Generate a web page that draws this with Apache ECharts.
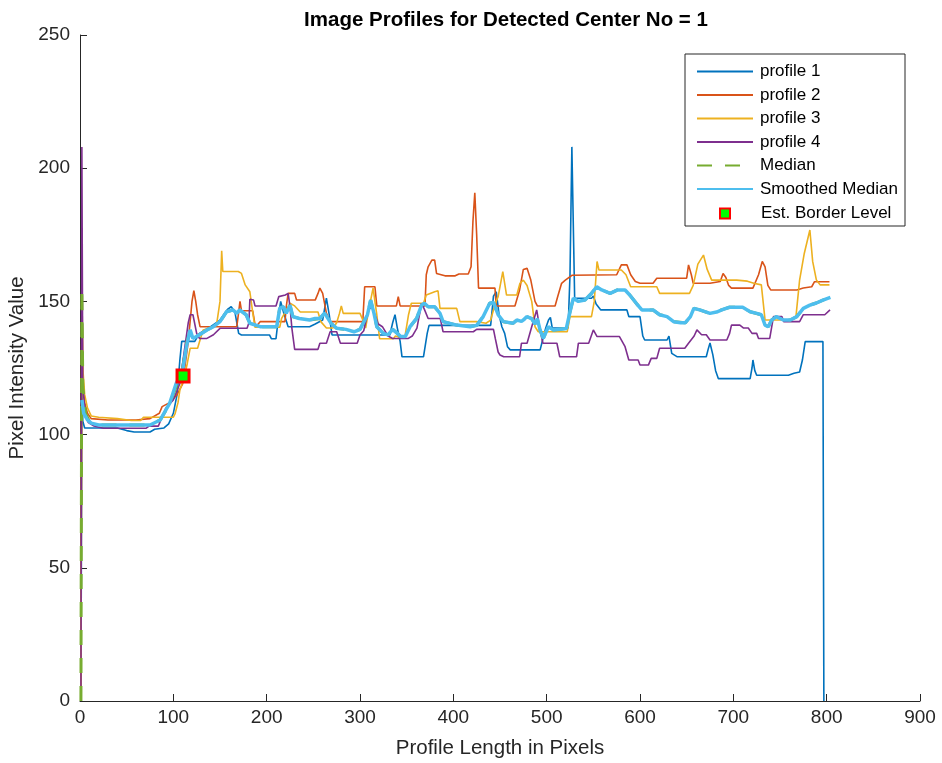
<!DOCTYPE html>
<html><head><meta charset="utf-8">
<script src="https://cdn.jsdelivr.net/npm/echarts@6/dist/echarts.min.js"></script>
<style>html,body{margin:0;padding:0;background:#fff}#c{width:942px;height:763px}</style>
</head><body><div id="c"></div>
<script>
// ---- data (x = profile position in pixels, y = intensity) ----
const titleText = 'Image Profiles for Detected Center No = 1';
const xTicks = [0,100,200,300,400,500,600,700,800,900];
const yTicks = [0,50,100,150,200,250];
const seriesNames = ['profile 1','profile 2','profile 3','profile 4','Median','Smoothed Median','Est. Border Level'];

const profile1 = [[1,0],[2,118],[3,105],[5,102.5],[40,102.5],[50,101.5],[58,101],[75,101],[80,102],[90,102.5],[95,104],[100,108],[104,115],[107,128],[109,135],[123,135],[128,138],[140,140.5],[150,143],[158,147],[162,148],[166,146],[170,138],[173,137.4],[203,137.4],[205,136],[210,136],[213,145],[215,150],[218,146],[223,140.5],[246,140.5],[252,141.5],[260,143],[264,151.2],[267,145],[270,137.4],[332,137.4],[335,142],[337.5,145],[340,140],[343,135],[345,129.2],[368,129.2],[372,138],[374,141],[440,141],[443,152],[446,153.6],[449,145],[452,140.5],[455,138],[458,133],[461,131.8],[493,131.8],[496,136],[499,140],[502,143],[504,144],[506,140],[523,140],[525,160],[527,208],[529,170],[530,151.2],[548,151.2],[550,152],[553,149],[558,146.8],[586,146.8],[588,144.3],[600,144.3],[603,137],[605,135.5],[629,135.5],[631,137],[634,130.5],[640,129.2],[671,129.2],[673,132],[675,134.4],[678,130],[681,124],[684,121],[718,121],[720,125],[721,128],[723,124],[725,122.3],[759,122.3],[765,123],[771,123.5],[774,128],[777,134.9],[796,134.9],[797,0]];

const profile2 = [[1,0],[2,160],[3,122],[5,112],[8,108],[12,106],[30,105.5],[60,105.5],[75,106],[85,108],[88,110.5],[96,112],[104,115],[110,119],[116,135],[120,150],[122,154],[124,150],[126,145],[128.6,140.5],[168,140.5],[170,146],[171.4,150],[173,146.5],[185,146.5],[188,140.3],[193,142.4],[219.6,142.4],[221,148],[223,153],[230,153],[232,150.5],[252,150.5],[255,153],[257,155],[260,153],[264,145.6],[268,142.4],[303,142.4],[305,155.5],[316,155.5],[318,148.3],[339,148.3],[341,151.8],[343,148.3],[369.6,148.3],[371,160],[373,163],[377,165.5],[380,165.5],[382,160.5],[391,159.6],[402,159.6],[406,160.3],[416,160.3],[419,163],[421,180],[423,190.8],[425,175],[427,155],[444.6,155],[446,148.3],[466,148.3],[471,154.3],[475,162],[479,162.4],[483,158],[487.5,150],[490,148.3],[509,148.3],[512,152],[516,156.8],[520,158],[527,159.8],[575,160],[580,163.7],[586,163.7],[590,160],[595,157.5],[600,156.8],[614,156.8],[618,158.7],[650,158.7],[652,163.7],[655,160],[657,156.8],[675,156.8],[686,157.5],[689,160.5],[692,159],[695,156],[698,155],[721,155],[727,160],[731,165],[734,163],[737,156],[740,154.3],[768,154.3],[775,155],[784,155.5],[787,157.4],[803,157.4]];

const profile3 = [[1,0],[2,150],[3,125],[5,115],[8,110],[12,107],[20,106.5],[40,106],[55,105.3],[65,105.3],[68,106.5],[100,106.5],[102,108],[105,112],[107,116.7],[112,122],[115,126.8],[118,132.4],[126,132.4],[129,136],[132,139.3],[143,140.5],[146.4,141.5],[150,150],[151.8,169],[153,161.2],[169.6,161.2],[173,160.5],[177,156.2],[182,153.6],[185,146],[187.5,140.3],[214,140.3],[216,143.6],[220,146],[225,149.3],[230,148.3],[236,146],[255,146],[258,142.4],[264,140],[271,140],[275,142],[278,145.5],[280,148.3],[282,145.5],[300,145.5],[303,143],[306,140],[310,148],[314,155],[316,155],[318,145],[321,136],[335.7,136],[338,137],[343,136.5],[348,136.5],[352,145],[355,149.3],[368,149.3],[371,152.4],[380,153.6],[383.6,154],[385.7,147.4],[403.6,147.4],[407,142.4],[425,142.4],[435,141.8],[440,143],[445,149.3],[448,151.8],[453,161.2],[457,152.4],[468,152.4],[471.4,156.8],[475,158],[479,156],[484,150],[487.5,140.5],[491,138.6],[522,138.6],[525,144.3],[548,144.3],[551,150],[554,165],[556,161.8],[580,161.8],[585,160],[590,155.5],[618,155.5],[621,153],[653,153],[657,156],[662,164],[668,167.4],[672,162],[676.8,158],[703.6,158],[715,157.6],[722,156.8],[730,156.2],[734,143],[761,143],[767,144],[771,158],[776,168],[782,176.8],[785,165],[789,158],[793,156.2],[803,156.2]];

const profile4 = [[1,0],[2,208],[3,118],[6,107],[9,104.5],[15,103.2],[25,102.4],[71,102.4],[74,103.2],[84,103.2],[88,106.7],[92,110],[100,113],[107,119.2],[112,132],[116,142],[118,145],[121,145],[125,138],[128,136.1],[136,136.1],[143,137.5],[150,139.9],[179,139.9],[181,142],[182,150.8],[186,150.5],[187.5,148.3],[210,148.3],[213,151.8],[220,152.4],[223,153],[225,148],[227,140],[230,132],[255,132],[257,134.3],[264,134.3],[268,138.6],[275,138.6],[279,134.3],[297,134.3],[300,137.4],[304,139],[309,146.8],[312.5,148],[316,145],[319.6,141.5],[324,140.5],[330,137],[335,136.1],[351.8,136.1],[356,137],[361,140],[366,149.3],[369,147],[373,143.6],[386,143.6],[389,138.6],[421.4,138.6],[425,139.5],[443,139.5],[445,136],[448,131],[450,129.9],[454,129.2],[471,129.2],[473,134.3],[479,134.3],[484,140.5],[489.3,146.8],[493,139],[496,134.3],[511,134.3],[514,129.2],[532,129.2],[534,134.3],[545,134.3],[550,139.3],[554,136.8],[578,136.8],[580,137.5],[584,133],[588,128],[598,128],[600,126.1],[609,126.1],[612,128.6],[618,128.6],[621,132.4],[648,132.4],[652,134.3],[658,137],[661,139.3],[666,137.5],[671,137.5],[675,135.5],[693,135.5],[696,138],[698,141.1],[707,141.1],[711,140],[716,140],[720,138],[725,138],[727,136.1],[739,136.1],[743,144.3],[752,144.3],[754,142.4],[771,142.4],[775,145],[798,145],[803.6,146.8]];

const medianProfile = [[1,0],[2,155],[3,118],[6,108],[10,105],[20,103.6],[75,103.6],[86,105.5],[96,111.5],[103,118],[107,122.5],[110,125],[114,134],[118,139],[121,136.5],[128,137.5],[136,139.3],[143,140.5],[150,142.4],[157,146.1],[164,146.8],[168,145.5],[171,146.8],[178,145],[182,141.8],[193,140.5],[210.7,140.5],[214,147.4],[218,148],[221,145.5],[225,148.6],[228,144.3],[235,143.6],[246,143],[257,143.6],[262,145.6],[264,146.1],[269,141.8],[275,139.9],[285,139.5],[293.6,138.6],[300,139.5],[308,145],[311.4,150.5],[315,145.5],[318,140.5],[325,138],[330,137.4],[335,139.5],[340,138],[343.6,136.8],[348.6,136.8],[353.6,140.5],[360.7,143.6],[366,148.6],[369,149.3],[373,148],[380,148],[385.7,145.5],[389,142.4],[403.6,141.1],[418,140.5],[425,141],[432,144.3],[439,149.3],[443,149.6],[448,145],[453.6,142.4],[464,141.8],[468,143],[473,142.5],[478.6,144.3],[484,143.5],[487.5,141.5],[490,143.5],[492.9,139.3],[496.4,136.1],[501.8,140.5],[507,139.3],[521,139.8],[525,146.1],[528.6,151.2],[534,150],[541,150.5],[548,153],[553.6,155.5],[559,154.3],[568,153],[576,154.3],[584,154.3],[589,152.4],[596,149.3],[602,146.8],[614,146.8],[621,145],[629,144.3],[636,142.4],[648.6,142],[654,144.3],[657.7,147.4],[664,146.8],[675,145.5],[689,147],[696,147.8],[710,147.8],[718,146.1],[730,145],[734,141.1],[737.5,140.5],[741,143],[746,144.3],[753.6,143],[761,143],[768,144.3],[775,147.4],[782,148.6],[789,149.4],[796,150.5],[804,151.5]];

const smoothedMedian = [[2,113],[4,108],[8,105.5],[12,104.3],[20,103.6],[75,103.6],[86,105.5],[96,111.7],[103,119.2],[107,122],[110,124.2],[114,133],[118,139.3],[121,136.1],[128,137.5],[136,139.3],[143,140.5],[150,142.4],[157,146.1],[164,146.8],[168,145.5],[171,146.8],[178,145],[182,141.8],[193,140.5],[210.7,140.5],[214,147.4],[218,148],[221,145.5],[225,148.6],[228,144.3],[235,143.6],[246,143],[252,143.6],[257,143.6],[262,145.6],[264,146.1],[269,141.8],[275,139.9],[285,139.5],[293.6,138.6],[300,139.5],[308,145],[311.4,150.5],[315,145.5],[318,140.5],[325,138],[330,137.4],[335,139.5],[340,138],[343.6,136.8],[348.6,136.8],[353.6,140.5],[360.7,143.6],[366,148.6],[369,149.3],[373,148],[380,148],[385.7,145.5],[389,142.4],[403.6,141.1],[418,140.5],[425,141],[432,144.3],[439,149.3],[443,149.6],[448,145],[453.6,142.4],[464,141.8],[468,143],[473,142.5],[476,143.3],[478.6,144.3],[484,143.5],[487.5,141.5],[490,143.5],[492.9,139.3],[496.4,136.1],[501.8,140.5],[507,139.3],[521,139.8],[525,146.1],[528.6,151.2],[534,150],[541,150.5],[548,153],[553.6,155.5],[559,154.3],[568,153],[576,154.3],[584,154.3],[589,152.4],[596,149.3],[602,146.8],[614,146.8],[621,145],[629,144.3],[636,142.4],[643.6,142],[648.6,142],[654,144.3],[657.7,147.4],[664,146.8],[675,145.5],[682,146],[689,147],[696,147.8],[710,147.8],[718,146.1],[725,145.5],[730,145],[734,141.1],[737.5,140.5],[741,143],[746,144.3],[753.6,143],[761,143],[768,144.3],[775,147.4],[782,148.6],[789,149.4],[796,150.5],[804,151.5]];

const borderLevel = [[110.4,122]];

// ---- chart ----
const FONT = "'Liberation Sans', Arial, Helvetica, sans-serif";
const TXT = '#262626';
const colors = ['#0072BD','#D95319','#EDB120','#7E2F8E','#77AC30','#4DBEEE'];

const chart = echarts.init(document.getElementById('c'), null, {renderer:'canvas'});
function lineSeries(name, data, color, width, extra) {
  return Object.assign({
    name, type:'line', data, symbol:'none', showSymbol:false, smooth:false,
    lineStyle:{color, width}, itemStyle:{color}, z:2, animation:false
  }, extra || {});
}
chart.setOption({
  animation:false,
  backgroundColor:'#ffffff',
  title:{ text:titleText, left:501, top:5, textAlign:'center',
    textStyle:{fontFamily:FONT, fontSize:20.5, fontWeight:'bold', color:'#000'} },
  grid:{ left:80, right:22, top:35, bottom:62, containLabel:false, outerBoundsMode:'none' },
  xAxis:{ type:'value', min:0, max:900, interval:100,
    name:'Profile Length in Pixels', nameLocation:'middle', nameGap:37,
    nameTextStyle:{fontFamily:FONT, fontSize:20.5, color:TXT},
    axisLine:{show:true, onZero:false, lineStyle:{color:TXT, width:1}},
    axisTick:{show:true, inside:true, length:7, lineStyle:{color:TXT}},
    axisLabel:{fontFamily:FONT, fontSize:19, color:TXT, margin:7,
      formatter:v => xTicks.includes(v) ? String(v) : ''},
    splitLine:{show:false} },
  yAxis:{ type:'value', min:0, max:250, interval:50,
    name:'Pixel Intensity Value', nameLocation:'middle', nameGap:46,
    nameTextStyle:{fontFamily:FONT, fontSize:20.5, color:TXT},
    axisLine:{show:true, onZero:false, lineStyle:{color:TXT, width:1}},
    axisTick:{show:true, inside:true, length:7, lineStyle:{color:TXT}},
    axisLabel:{fontFamily:FONT, fontSize:19, color:TXT, margin:10,
      formatter:v => yTicks.includes(v) ? String(v) : ''},
    splitLine:{show:false} },
  legend:[
    { data:seriesNames.slice(0,6), orient:'vertical', left:696, top:63,
      itemWidth:56, itemHeight:14, itemGap:6.5, padding:0,
      itemStyle:{opacity:0},
      textStyle:{fontFamily:FONT, fontSize:17, color:'#000', lineHeight:14, padding:[0,0,0,2]},
      z:10, selectedMode:false },
    { data:[{name:seriesNames[6], icon:'rect'}], orient:'vertical', left:719, top:205,
      itemWidth:10, itemHeight:10, padding:0,
      textStyle:{fontFamily:FONT, fontSize:17, color:'#000', lineHeight:14, padding:[0,0,0,26]},
      z:10, selectedMode:false }
  ],
  graphic:[{ type:'rect', shape:{x:685, y:54, width:220, height:172},
    style:{fill:'#fff', stroke:TXT, lineWidth:1}, z:5 }],
  series:[
    lineSeries(seriesNames[0], profile1, colors[0], 1.6),
    lineSeries(seriesNames[1], profile2, colors[1], 1.6),
    lineSeries(seriesNames[2], profile3, colors[2], 1.6),
    lineSeries(seriesNames[3], profile4, colors[3], 1.6),
    lineSeries(seriesNames[4], medianProfile, colors[4], 3, {lineStyle:{color:colors[4], width:3, type:[15,13]}, z:3}),
    lineSeries(seriesNames[5], smoothedMedian, colors[5], 3.5, {z:4}),
    { name:seriesNames[6], type:'scatter', data:borderLevel, symbol:'rect', symbolSize:12,
      itemStyle:{color:'#00ff00', borderColor:'#ff0000', borderWidth:3, opacity:1}, z:6 }
  ]
});
</script></body></html>
